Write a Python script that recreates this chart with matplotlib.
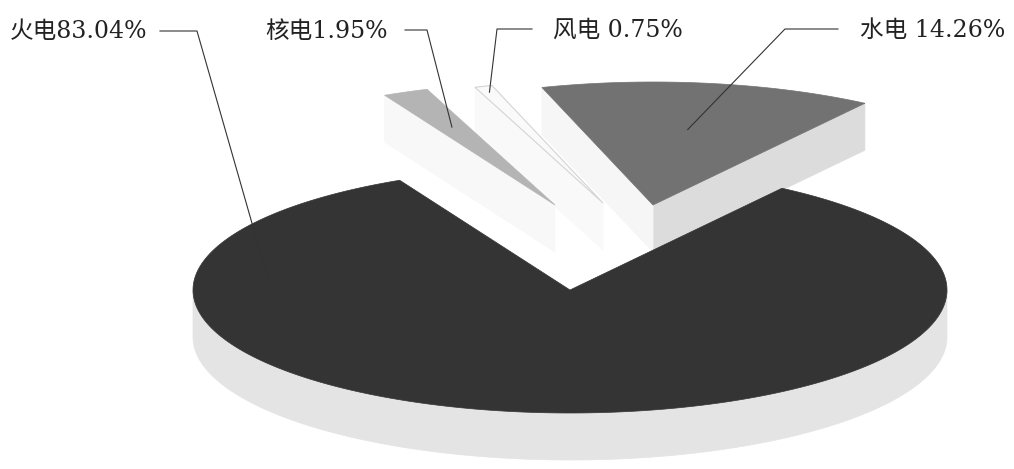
import numpy as np
import matplotlib
matplotlib.use("Agg")
import matplotlib.pyplot as plt
from matplotlib.patches import Polygon

# 发电量构成 (%)
sources = ["火电", "核电", "风电", "水电"]
shares = [83.04, 1.95, 0.75, 14.26]
label_sep = ["", "", " ", " "]

# 饼图几何 (像素坐标)
CX, CY = 570, 290          # 火电扇区顶点
RX, RY = 377, 123          # 椭圆半轴
DEPTH = 47                 # 厚度
START = 55.8               # 第一扇区起始角, 顺时针排列
SHIFT = [(0, 0), (-15, -85), (33, -87), (83, -85)]   # 分离偏移

TOP = ["#343434", "#b4b4b4", "#fafafa", "#727272"]
WALL = ["#e4e4e4", "#f7f7f7", "#f9f9f9", "#e6e6e6"]
CUT_LO = ["#e4e4e4", "#f7f7f7", "#f9f9f9", "#dcdcdc"]
CUT_HI = ["#e4e4e4", "#f8f8f8", "#f9f9f9", "#f6f6f6"]
EDGE = [None, None, "#d4d4d4", None]

# 标签位置与引线
LABEL_XY = [(10, 32), (265, 31), (553, 30), (860, 30)]
LEADER_RUN = [(160, 197), (405, 427), (532, 497), (838, 785)]
LEADER_TIP = [(176, 0.80), (None, 0.69), (None, 0.95), (None, 0.62)]

FONT = ["DejaVu Serif", "Noto Sans CJK SC"]


def rim(t, cx, cy, drop=0.0):
    r = np.radians(t)
    return np.column_stack([cx + RX * np.cos(r), cy - RY * np.sin(r) + drop])


def draw_wedge(ax, lo, hi, cx, cy, top, wall, cut_lo, cut_hi, edge=None):
    # 外侧弧面, 只有前半圈可见
    for k in range(-2, 3):
        a, b = max(lo, 360 * k - 180), min(hi, 360 * k)
        if b > a:
            t = np.linspace(a, b, 200)
            pts = np.vstack([rim(t, cx, cy), rim(t[::-1], cx, cy, DEPTH)])
            ax.add_patch(Polygon(pts, closed=True, fc=wall, ec=wall, lw=0.5))
    # 径向切面
    faces = [(lo, cut_lo, np.cos(np.radians(lo)) > 0),
             (hi, cut_hi, np.cos(np.radians(hi)) < 0)]
    for t, col, show in faces:
        if show:
            p = rim(np.array([t]), cx, cy)[0]
            quad = [[cx, cy], p, p + [0, DEPTH], [cx, cy + DEPTH]]
            ax.add_patch(Polygon(quad, closed=True, fc=col, ec=col, lw=0.5))
    # 顶面
    t = np.linspace(lo, hi, 400)
    pts = np.vstack([[[cx, cy]], rim(t, cx, cy)])
    ax.add_patch(Polygon(pts, closed=True, fc=top, ec=edge or top,
                         lw=0.8 if edge else 0.5))


fig = plt.figure(figsize=(10.14, 4.69), dpi=100)
ax = fig.add_axes([0, 0, 1, 1])
ax.set_xlim(0, 1014)
ax.set_ylim(469, 0)
ax.axis("off")

# 顺时针累加角度
spans = np.array(shares) * 3.6
hi_ang = START - np.concatenate([[0], np.cumsum(spans)[:-1]])
lo_ang = hi_ang - spans

# 后面的分离扇区先画, 火电最后
for i in reversed(range(len(shares))):
    cx, cy = CX + SHIFT[i][0], CY + SHIFT[i][1]
    draw_wedge(ax, lo_ang[i], hi_ang[i], cx, cy, TOP[i], WALL[i],
               CUT_LO[i], CUT_HI[i], EDGE[i])

for i, name in enumerate(sources):
    cx, cy = CX + SHIFT[i][0], CY + SHIFT[i][1]
    ang, frac = LEADER_TIP[i]
    if ang is None:
        ang = (lo_ang[i] + hi_ang[i]) / 2
    r = np.radians(ang)
    tip = (cx + RX * frac * np.cos(r), cy - RY * frac * np.sin(r))
    x0, x1 = LEADER_RUN[i]
    y = LABEL_XY[i][1] - 1
    ax.plot([x0, x1, tip[0]], [y, y, tip[1]], color="#333333", lw=0.8)
    ax.text(LABEL_XY[i][0], LABEL_XY[i][1], f"{name}{label_sep[i]}{shares[i]:.2f}%",
            ha="left", va="center", fontsize=17, color="#222222", family=FONT)

fig.savefig("out.png", dpi=100, facecolor="white")
